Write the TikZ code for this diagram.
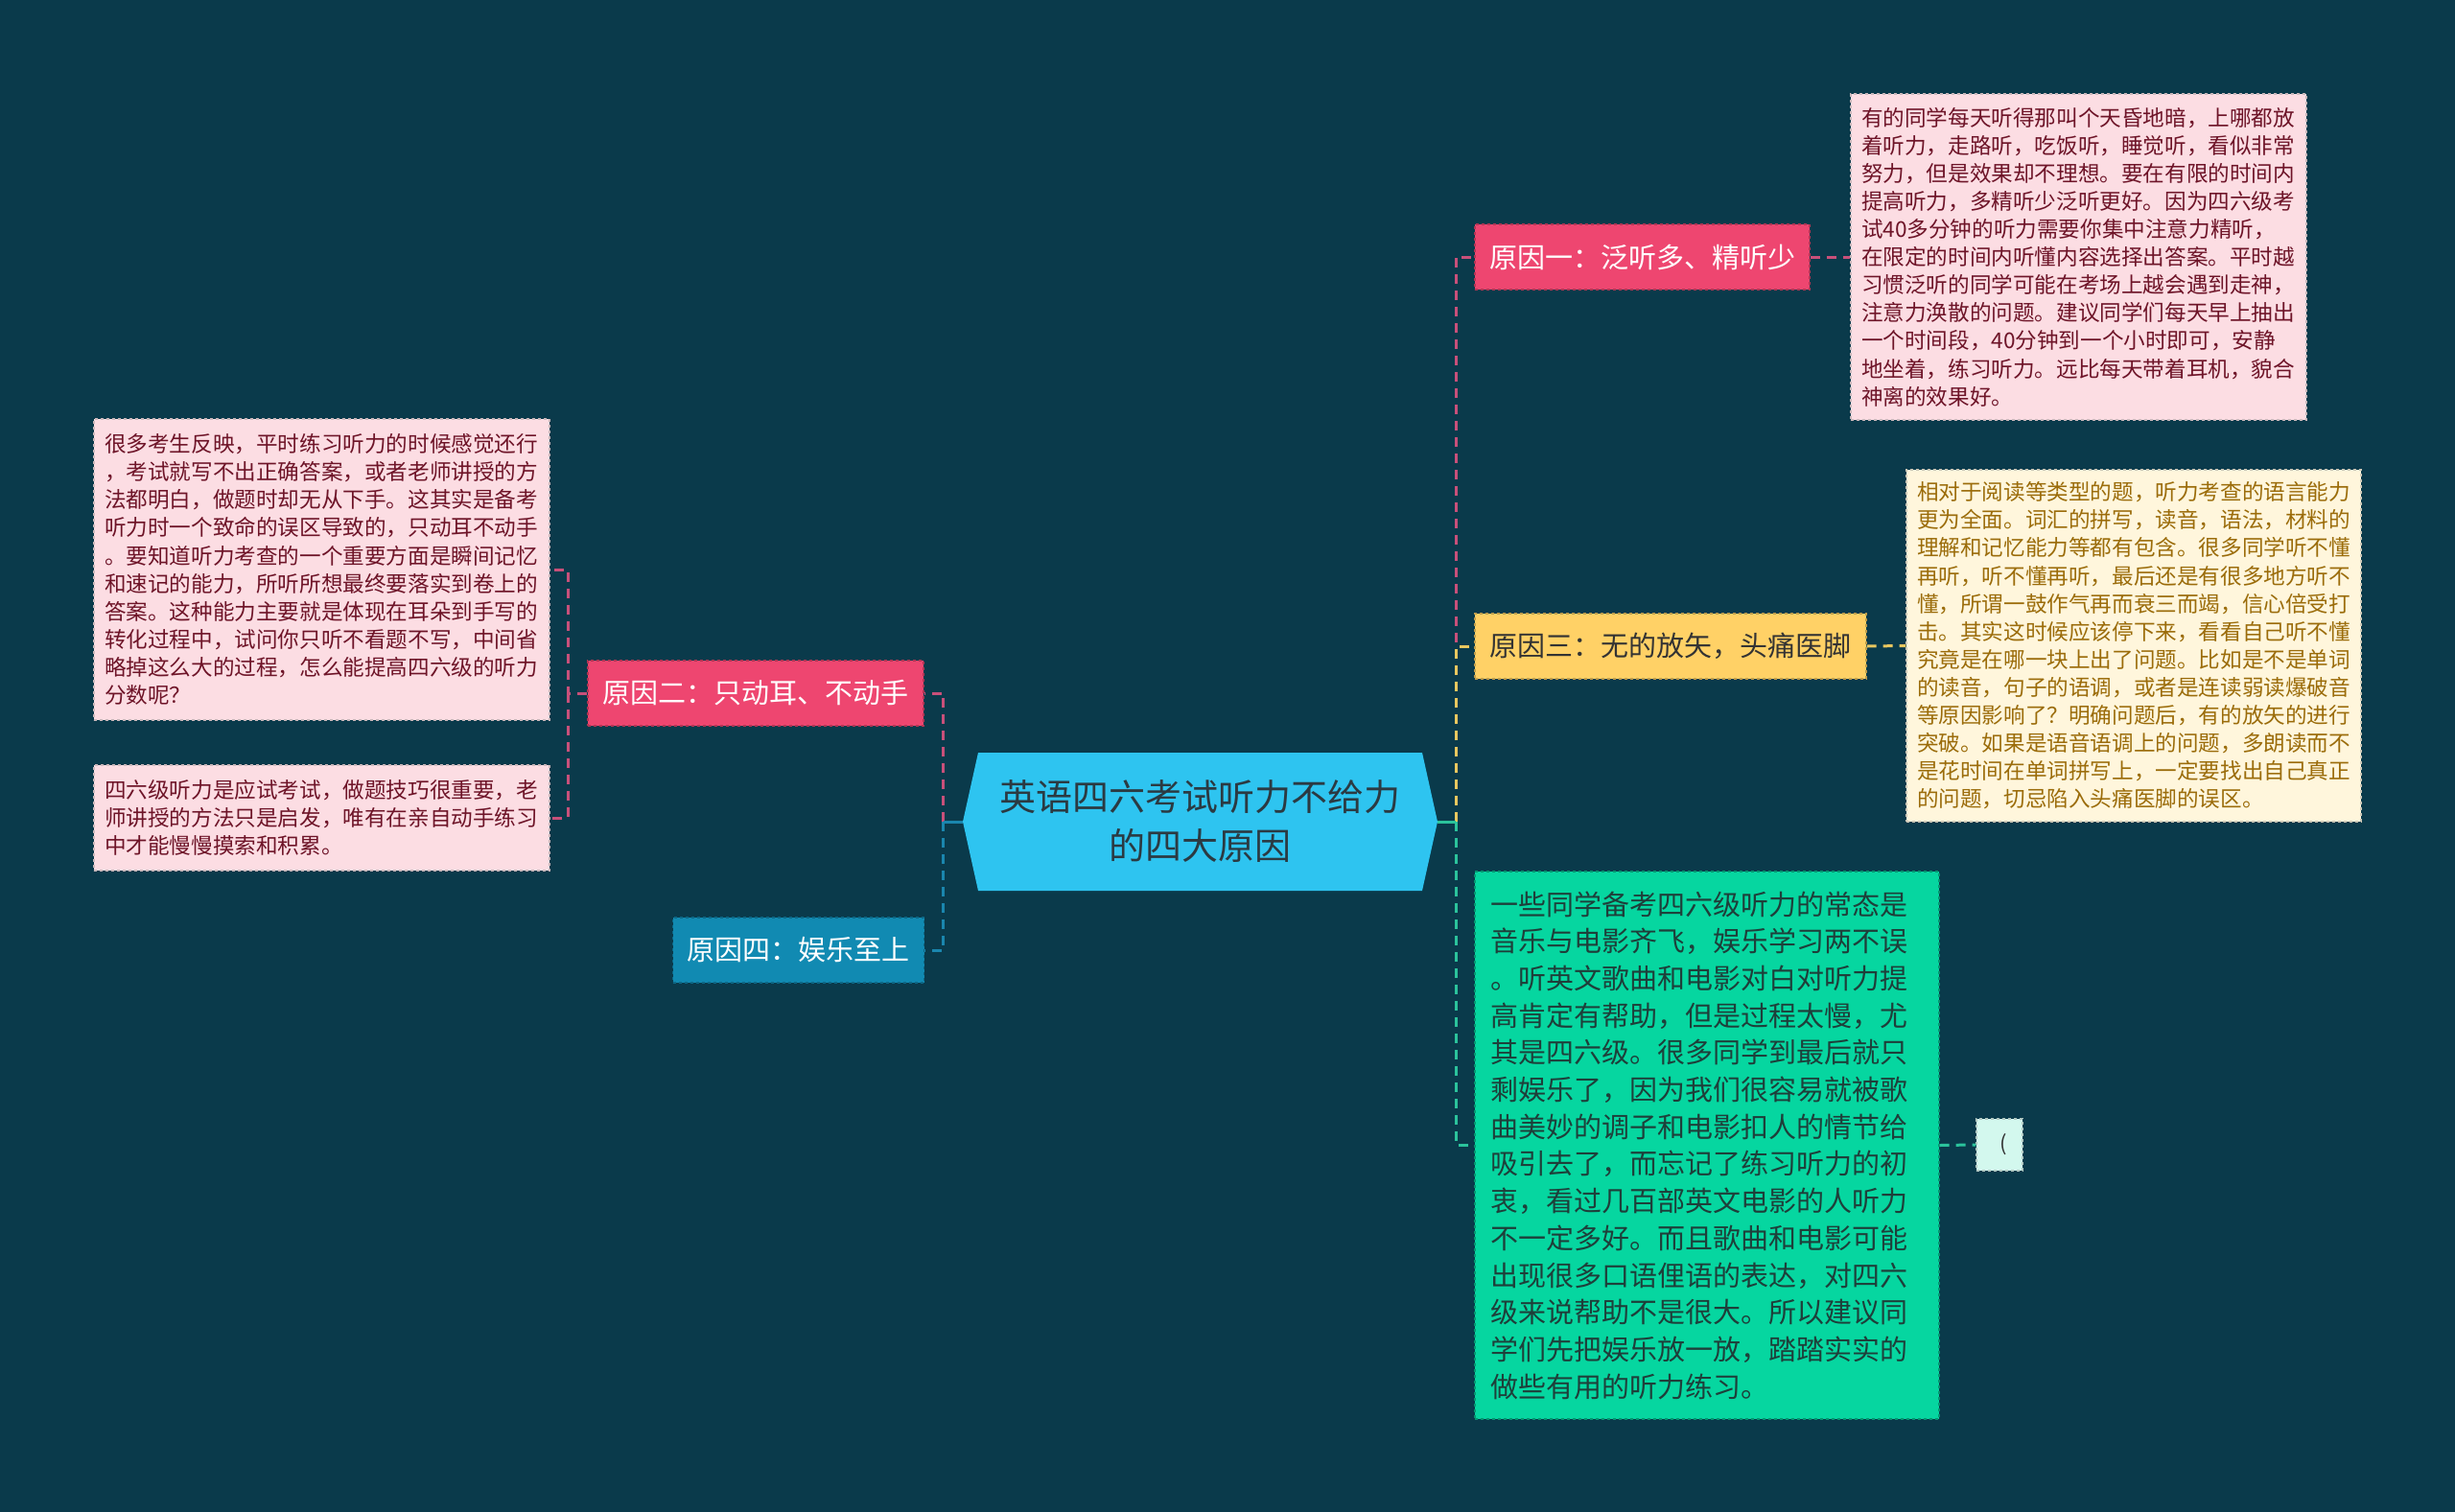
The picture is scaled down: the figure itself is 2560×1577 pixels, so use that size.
\documentclass[tikz,border=0pt]{standalone}
\usepackage{fontspec}
\setmainfont{Noto Sans CJK SC}
\definecolor{bg}{HTML}{0A3A4B}
\definecolor{rootfill}{HTML}{2EC4F0}
\definecolor{roottext}{HTML}{2B3A42}
\definecolor{pinkfill}{HTML}{EE4670}
\definecolor{yellowfill}{HTML}{FFD166}
\definecolor{greenfill}{HTML}{06D6A0}
\definecolor{bluefill}{HTML}{118AB2}
\definecolor{lightpink}{HTML}{FCDDE3}
\definecolor{cream}{HTML}{FFF6DC}
\definecolor{mint}{HTML}{D3F8EE}
\definecolor{pinktext}{HTML}{6E1428}
\definecolor{creamtext}{HTML}{9B6C0A}
\definecolor{greentext}{HTML}{1E3F3A}
\definecolor{darktext}{HTML}{333333}
\definecolor{pinkline}{HTML}{C8507A}
\definecolor{blueline}{HTML}{1A86AE}
\definecolor{yellowline}{HTML}{E9C75F}
\definecolor{greenline}{HTML}{2BC39C}
\begin{document}
\begin{tikzpicture}[x=1pt,y=-1pt,
  lvl/.style={rectangle, inner xsep=15, inner ysep=0, minimum height=68,
    font=\fontsize{29}{35}\selectfont, dashed, line width=1.2},
  tbox/.style={rectangle, inner xsep=11, inner ysep=0, align=left,
    dashed, line width=1.2, font=\fontsize{22.6}{29.1}\selectfont},
  con/.style={line width=3, dash pattern=on 10pt off 7pt},
  solidcon/.style={line width=3}]
\fill[bg] (0,0) rectangle (2560,1577);
\useasboundingbox (0,0) rectangle (2560,1577);

% root hexagon
\fill[rootfill] (1004,857) -- (1020,785) -- (1483,785) -- (1499,857) -- (1483,929) -- (1020,929) -- cycle;
\node[font=\fontsize{38}{51}\selectfont, align=center, text=roottext,
  minimum width=495, minimum height=144, inner sep=0] (root) at (1251.5,857)
  {英语四六考试听力不给力\\的四大原因};

% level-1 nodes
\node[lvl, fill=pinkfill, draw=pinkfill!75!black, text=white, minimum width=349] (r1) at (1712.5,268) {原因一：泛听多、精听少};
\node[lvl, fill=yellowfill, draw=yellowfill!75!black, text=darktext, minimum width=408] (r3) at (1742,674) {原因三：无的放矢，头痛医脚};
\node[lvl, fill=pinkfill, draw=pinkfill!75!black, text=white, minimum width=350] (r2) at (788,723) {原因二：只动耳、不动手};
\node[lvl, fill=bluefill, draw=bluefill!75!black, text=white, minimum width=261] (r4) at (832.5,991) {原因四：娱乐至上};

% green detail box (level-1 of branch four on right)
\node[rectangle, inner xsep=16, inner ysep=0, align=left, dashed, line width=1.2,
  fill=greenfill, draw=greenfill!70!black, text=greentext,
  font=\fontsize{29}{38.7}\selectfont, text width=452, minimum width=484, minimum height=571] (g) at (1780,1194.5)
{一些同学备考四六级听力的常态是\\
音乐与电影齐飞，娱乐学习两不误\\
。听英文歌曲和电影对白对听力提\\
高肯定有帮助，但是过程太慢，尤\\
其是四六级。很多同学到最后就只\\
剩娱乐了，因为我们很容易就被歌\\
曲美妙的调子和电影扣人的情节给\\
吸引去了，而忘记了练习听力的初\\
衷，看过几百部英文电影的人听力\\
不一定多好。而且歌曲和电影可能\\
出现很多口语俚语的表达，对四六\\
级来说帮助不是很大。所以建议同\\
学们先把娱乐放一放，踏踏实实的\\
做些有用的听力练习。};

% text boxes
\node[tbox, fill=lightpink, draw=lightpink!60!gray, text=pinktext, text width=453, minimum width=475, minimum height=340] (tr) at (2167.5,268)
{有的同学每天听得那叫个天昏地暗，上哪都放\\
着听力，走路听，吃饭听，睡觉听，看似非常\\
努力，但是效果却不理想。要在有限的时间内\\
提高听力，多精听少泛听更好。因为四六级考\\
试40多分钟的听力需要你集中注意力精听，\\
在限定的时间内听懂内容选择出答案。平时越\\
习惯泛听的同学可能在考场上越会遇到走神，\\
注意力涣散的问题。建议同学们每天早上抽出\\
一个时间段，40分钟到一个小时即可，安静\\
地坐着，练习听力。远比每天带着耳机，貌合\\
神离的效果好。};

\node[tbox, fill=cream, draw=cream!60!gray, text=creamtext, text width=452, minimum width=474, minimum height=367] (cr) at (2225,673.5)
{相对于阅读等类型的题，听力考查的语言能力\\
更为全面。词汇的拼写，读音，语法，材料的\\
理解和记忆能力等都有包含。很多同学听不懂\\
再听，听不懂再听，最后还是有很多地方听不\\
懂，所谓一鼓作气再而衰三而竭，信心倍受打\\
击。其实这时候应该停下来，看看自己听不懂\\
究竟是在哪一块上出了问题。比如是不是单词\\
的读音，句子的语调，或者是连读弱读爆破音\\
等原因影响了？明确问题后，有的放矢的进行\\
突破。如果是语音语调上的问题，多朗读而不\\
是花时间在单词拼写上，一定要找出自己真正\\
的问题，切忌陷入头痛医脚的误区。};

\node[tbox, fill=lightpink, draw=lightpink!60!gray, text=pinktext, text width=453, minimum width=475, minimum height=314] (l1) at (335.5,594)
{很多考生反映，平时练习听力的时候感觉还行\\
，考试就写不出正确答案，或者老师讲授的方\\
法都明白，做题时却无从下手。这其实是备考\\
听力时一个致命的误区导致的，只动耳不动手\\
。要知道听力考查的一个重要方面是瞬间记忆\\
和速记的能力，所听所想最终要落实到卷上的\\
答案。这种能力主要就是体现在耳朵到手写的\\
转化过程中，试问你只听不看题不写，中间省\\
略掉这么大的过程，怎么能提高四六级的听力\\
分数呢？};

\node[tbox, fill=lightpink, draw=lightpink!60!gray, text=pinktext, text width=453, minimum width=475, minimum height=110] (l2) at (335.5,853)
{四六级听力是应试考试，做题技巧很重要，老\\
师讲授的方法只是启发，唯有在亲自动手练习\\
中才能慢慢摸索和积累。};

\node[rectangle, fill=mint, draw=mint!60!gray, dashed, line width=1.2, text=darktext,
  font=\fontsize{22}{26}\selectfont, inner sep=0, minimum width=48, minimum height=54] (sm) at (2085,1194) {\phantom{(}(};

% connectors right
\coordinate (rt) at ([xshift=19pt]root.east);
\draw[con, pinkline] (rt) |- (r1.west);
\draw[con, yellowline] (rt) |- (r3.west);
\draw[con, greenline] (rt) |- (g.west);
\draw[solidcon, greenline] (root.east) -- (rt);
% connectors left
\coordinate (lt) at ([xshift=-20pt]root.west);
\draw[con, pinkline] (lt) |- (r2.east);
\draw[con, blueline] (lt) |- (r4.east);
\draw[solidcon, blueline] (root.west) -- (lt);
% second level
\coordinate (l2t) at ([xshift=-20pt]r2.west);
\draw[con, pinkline] (r2.west) -- (l2t) |- (l1.east);
\draw[con, pinkline] (l2t) |- (l2.east);
\draw[con, pinkline] (r1.east) -- (tr.west);
\draw[con, yellowline] (r3.east) -- (cr.west);
\draw[con, greenline] (g.east) -- (sm.west);
\end{tikzpicture}
\end{document}
